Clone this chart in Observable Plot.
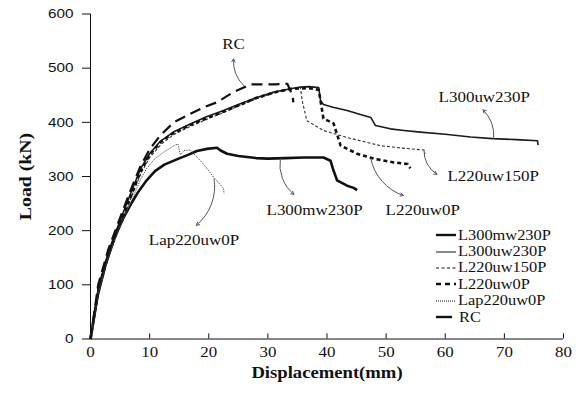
<!DOCTYPE html>
<html><head><meta charset="utf-8">
<script src="https://cdn.jsdelivr.net/npm/d3@7"></script>
<script src="https://cdn.jsdelivr.net/npm/@observablehq/plot@0.6"></script>
<style>
body{margin:0;background:#fff;}
#wrap{position:relative;width:583px;height:399px;overflow:hidden;}
#wrap svg g[aria-label="x-axis tick label"] text{font:15px "Liberation Serif",serif;fill:#111;}
#wrap svg g[aria-label="y-axis tick label"] text{font:13.5px "Liberation Sans",sans-serif;fill:#111;}
#wrap svg g[aria-label="x-axis label"] text{font:bold 16.5px "Liberation Serif",serif;fill:#111;}
#wrap svg g[aria-label="y-axis label"] text{font:bold 17.5px "Liberation Serif",serif;fill:#111;}
#legend{position:absolute;left:436px;top:227px;font:14.5px "Liberation Serif",serif;color:#111;}
#legend .row{height:16.4px;display:flex;align-items:center;white-space:nowrap;}
#legend svg{flex:none;}
#legend span{display:inline-block;transform:scaleX(1.13);transform-origin:left center;}
</style></head><body><div id="wrap"></div>
<script>
const xTicks = [0,10,20,30,40,50,60,70,80];
const yTicks = [0,100,200,300,400,500,600];

const L300mw230P = [[0,0],[1.2,80],[2.5,135],[4,185],[5.5,222],[7,252],[8.1,272],[9.5,293],[10.9,310],[12.5,322],[14.9,333],[16.5,340],[18,347],[19.7,351],[21.4,353],[22,348],[23.1,342],[25,338],[26.5,336],[28,334],[30,333],[33,334],[36,335],[39.4,335],[40.6,329],[41.1,311],[41.7,293],[43.4,283],[44.5,279],[45.1,275]];
const L300uw230P = [[0,0],[1.35,96],[3,160],[4.7,210],[6.9,272],[8.5,315],[10,342],[11.8,365],[14,382],[16.9,397],[19.5,410],[22.5,422],[25,433],[28.2,446],[31,456],[33.8,462],[35.5,465],[37,466],[38.6,464],[38.9,440],[39.4,433],[41,428],[43.4,422],[45.5,415],[47.4,409],[48.2,394],[50.7,388],[53,385],[55.8,382],[60,378],[64.3,373],[68,370],[72,368],[75.6,366],[75.7,358]];
const L220uw150P = [[0,0],[1.5,90],[3,150],[4.7,200],[6.9,262],[8.5,305],[10,335],[12,360],[14,377],[17,393],[20,407],[22.5,418],[25,430],[28,443],[31,454],[33.5,461],[35.5,465],[35.8,440],[36.6,403],[39.4,385],[43.4,372],[49,357],[53,352],[56.4,349],[56.6,342]];
const L220uw0P = [[0,0],[1.4,95],[3,155],[4.7,205],[6.9,266],[8.5,310],[10,340],[12,365],[14,380],[17,396],[20,409],[22.5,420],[25,431],[28,445],[31,455],[34,462],[37,463],[38.6,460],[39.4,407],[41.1,398],[41.7,378],[42.3,357],[45.1,342],[47.9,333],[51.3,326],[53.6,323],[54.1,315]];
const Lap220uw0P = [[0,0],[1.4,90],[3,150],[4.7,200],[6.9,255],[8.5,295],[9.5,315],[10.9,333],[12.4,345],[14.3,358],[14.8,360],[15.2,340],[15.8,348],[16.9,349],[17.5,342],[18.6,329],[19.7,315],[20.8,299],[21.7,288],[22.5,278],[22.6,268]];
const RC = [[0,0],[1.3,100],[3,165],[4.7,215],[6.9,278],[8.5,320],[10,350],[11.8,376],[14.1,400],[16.9,416],[19,427],[21.4,437],[24.2,456],[27.1,470],[31,470],[33.3,471],[34.2,449],[34.3,437]];

const seriesNames = ["L300mw230P","L300uw230P","L220uw150P","L220uw0P","Lap220uw0P","RC"];
const seriesData = [L300mw230P,L300uw230P,L220uw150P,L220uw0P,Lap220uw0P,RC];

// annotation labels and pointer arrows
const annLabels = ["RC","L300uw230P","L220uw150P","L220uw0P","L300mw230P","Lap220uw0P"];
const annTextX = [24.2,66.6,68.1,56.2,37.9,17.5];
const annTextY = [545,447,300,237,237,182];
const annFromX = [25.9,68.2,56.4,47.4,32.1,20.9];
const annFromY = [468,370,348,333,333,296];
const annToX = [24.2,66.4,58.6,52.9,34.4,17.9];
const annToY = [517,423,304,265,267,210];
const annBend = [25,-25,-30,-30,-30,30];

const styles = {
  L300mw230P:{strokeWidth:2.6, dash:null, stroke:"#111", leg:{w:2.4,dash:null,len:20}},
  L300uw230P:{strokeWidth:1.6, dash:null, stroke:"#1a1a1a", leg:{w:1,dash:null,len:20}},
  L220uw150P:{strokeWidth:1.1, dash:"3,2", stroke:"#333", leg:{w:1,dash:"3,2.5",len:21}},
  L220uw0P:{strokeWidth:2.6, dash:"4,3", stroke:"#111", leg:{w:2.4,dash:"5,4",len:20}},
  Lap220uw0P:{strokeWidth:1, dash:"1.2,1.2", stroke:"#444", leg:{w:1,dash:"1,1",len:20}},
  RC:{strokeWidth:2.2, dash:"11,6", stroke:"#111", leg:{w:2.4,dash:null,len:16}}
};

const lineMarks = seriesNames.map((n,i)=>{
  const rows = seriesData[i].map(([x,y])=>({x,y}));
  const s = styles[n];
  return Plot.line(rows,{x:"x",y:"y",stroke:s.stroke,strokeWidth:s.strokeWidth,strokeDasharray:s.dash,strokeLinejoin:"round",strokeLinecap:"butt"});
});

const ann = annLabels.map((t,i)=>({t,x:annTextX[i],y:annTextY[i],x1:annFromX[i],y1:annFromY[i],x2:annToX[i],y2:annToY[i],b:annBend[i]}));

const chart = Plot.plot({
  width:583,height:399,
  marginLeft:90,marginRight:20,marginTop:13.5,marginBottom:60.5,
  x:{domain:[0,80]},
  y:{domain:[0,600]},
  marks:[
    Plot.axisY({ticks:yTicks,tickSize:8,tickPadding:9,label:"Load (kN)",labelAnchor:"center",labelOffset:72,labelArrow:false,stroke:"#111"}),
    Plot.axisX({ticks:xTicks,tickSize:0,tickPadding:7,label:"Displacement(mm)",labelAnchor:"center",labelOffset:39,labelArrow:false}),
    Plot.ruleX(xTicks,{x:d=>d,y1:0,y2:9.5,stroke:"#111"}),
    Plot.ruleX([0],{stroke:"#111"}),
    Plot.ruleY([0],{stroke:"#111"}),
    ...lineMarks,
    ...ann.map(a=>Plot.arrow([a],{x1:"x1",y1:"y1",x2:"x2",y2:"y2",bend:a.b,stroke:"#555",strokeWidth:1,headLength:5})),
    Plot.text(ann,{x:"x",y:"y",text:"t",fontFamily:"Liberation Serif",fontSize:15,fill:"#111"})
  ]
});
const wrap = document.getElementById("wrap");
wrap.appendChild(chart);

// legend (HTML overlay)
const leg = document.createElement("div");
leg.id = "legend";
seriesNames.forEach(n=>{
  const s = styles[n].leg;
  const row = document.createElement("div");
  row.className = "row";
  const w = n==="RC" ? 23 : 22;
  row.innerHTML = `<svg width="${w}" height="10"><line x1="0" x2="${s.len}" y1="5" y2="5" stroke="#111" stroke-width="${s.w}" ${s.dash?`stroke-dasharray="${s.dash}"`:""}/></svg><span>${n}</span>`;
  leg.appendChild(row);
});
wrap.appendChild(leg);

// widen text horizontally to match the reference's stretched glyphs
chart.querySelectorAll("text").forEach(t=>{
  const len = t.getComputedTextLength();
  if (len>0){ t.setAttribute("textLength", (len*1.13).toFixed(1)); t.setAttribute("lengthAdjust","spacingAndGlyphs"); }
});
</script></body></html>
